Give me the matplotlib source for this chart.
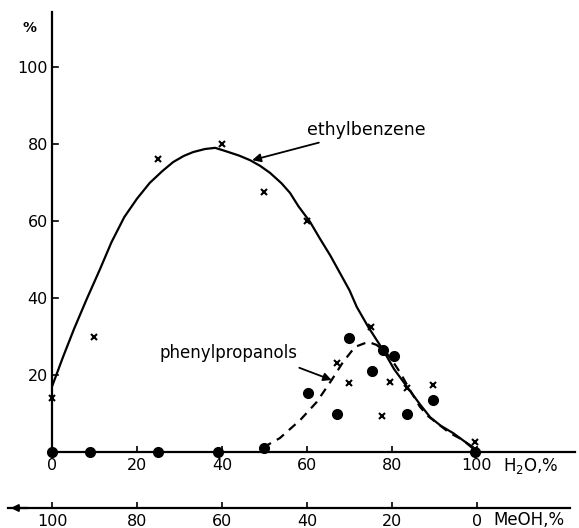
import matplotlib.pyplot as plt

# values (H2O %, %)
eb_x = [0, 10, 25, 40, 50, 60, 75, 67, 70, 79.5, 83.5, 89.7, 77.6, 99.5]
eb_y = [14, 30, 76, 80, 67.5, 60, 32.4, 23, 18, 18.2, 16.5, 17.4, 9.3, 2.7]

pp_x = [0, 9, 25, 39, 50, 60.3, 67, 70, 75.3, 78, 80.5, 83.5, 89.7, 99.5]
pp_y = [0, 0, 0, 0, 1, 15.3, 10, 29.5, 21, 26.5, 25, 10, 13.5, 0]

# curves
eb_curve_x = [0, 2.6, 5.2, 8.2, 11.3, 14, 17, 20, 23, 26, 28.5, 31, 33.2, 36, 38.4,
              40.7, 44, 46.6, 49, 51.3, 54, 56, 58, 60.7, 63, 65.5, 67.8, 70,
              71.7, 74.4, 77.9, 80.5, 83.5, 86.5, 89, 91.5, 94.4, 97, 99]
eb_curve_y = [17, 24.7, 32, 39.8, 47.5, 54.5, 61, 65.8, 69.9, 73, 75.3, 76.9, 77.9, 78.7, 79,
              78.2, 77, 75.8, 74.3, 72.5, 69.8, 67.3, 63.8, 59.8, 55.5, 51, 46.4, 42,
              37.7, 32.5, 26.5, 21.5, 17, 12.5, 9, 6.8, 4.9, 2.8, 1.3]

pp_curve_x = [49.7, 53.6, 58.4, 62.3, 65.8, 68.5, 71.3, 74.4, 76.4, 78.8, 80.5,
              82, 84, 86.6, 88.5, 90.6, 93.5, 96.7, 100]
pp_curve_y = [1.2, 3.6, 8.3, 13, 18.7, 23.4, 27.3, 28.6, 27.8, 25.6, 23,
              20.5, 16.5, 11.7, 9.3, 7.5, 5, 3.1, 0]

h2o_ticks = [0, 20, 40, 60, 80, 100]
y_ticks = [20, 40, 60, 80, 100]
meoh_ticks = [100, 80, 60, 40, 20, 0]

W, H = 579, 528
fig = plt.figure(figsize=(W / 100, H / 100), dpi=100)

# main axes: x=0 at px 52, x=100 at px 477; y=0 at px 452, y=100 at px 67
ax = fig.add_axes([52 / W, (H - 452) / H, 523 / W, 440 / H])
ax.set_xlim(0, 523 / 4.25)
ax.set_ylim(0, 440 / 3.85)
for s in ['top', 'right']:
    ax.spines[s].set_visible(False)
for s in ['left', 'bottom']:
    ax.spines[s].set_linewidth(1.6)
ax.set_xticks(h2o_ticks)
ax.tick_params(direction='in', length=4, width=1.2, labelsize=11.5, pad=4)
ax.set_yticks(y_ticks)
ax.tick_params(axis='y', direction='out', length=0, pad=3)
for yt in y_ticks:
    ax.plot([0, 1.5], [yt, yt], color='black', lw=1.2)

ax.plot(eb_curve_x, eb_curve_y, color='black', lw=1.6)
ax.plot(pp_curve_x, pp_curve_y, color='black', lw=1.6, dashes=(4, 3))
ax.plot(eb_x, eb_y, linestyle='none', marker='x', markersize=5, mew=1.5,
        color='black', clip_on=False)
ax.plot(pp_x, pp_y, linestyle='none', marker='o', markersize=7,
        color='black', clip_on=False)

ax.annotate('ethylbenzene', xy=(47.1, 75.8), xytext=(60, 83.6),
            fontsize=12.5, va='center', ha='left',
            arrowprops=dict(arrowstyle='-|>', color='black', lw=1.3,
                            shrinkA=2, shrinkB=0))
ax.annotate('phenylpropanols', xy=(65.8, 18.7), xytext=(25.4, 25.7),
            fontsize=12, va='center', ha='left',
            arrowprops=dict(arrowstyle='-|>', color='black', lw=1.3,
                            shrinkA=6, shrinkB=0, relpos=(0.9, 0.0)))

fig.text(30 / W, 1 - 28 / H, '%', fontsize=10, fontweight='bold',
         ha='center', va='center')
fig.text(503 / W, 1 - 466 / H, 'H$_2$O,%', fontsize=12, ha='left', va='center')

# second (MeOH) scale below
ax2 = fig.add_axes([8 / W, (H - 508) / H, 562 / W, 0.001])
ax2.set_xlim(100 + 44 / 4.25, 100 - 518 / 4.25)
ax2.set_yticks([])
for s in ['top', 'right', 'left']:
    ax2.spines[s].set_visible(False)
ax2.spines['bottom'].set_linewidth(1.6)
ax2.set_xticks(meoh_ticks)
ax2.tick_params(axis='x', direction='in', length=4, width=1.2, labelsize=11.5, pad=4)
ax2.annotate('', xy=(0, 0), xycoords='axes fraction', xytext=(0.04, 0),
             arrowprops=dict(arrowstyle='-|>', color='black', lw=1.6))
fig.text(493 / W, 1 - 520 / H, 'MeOH,%', fontsize=12, ha='left', va='center')

fig.savefig('out.png', dpi=100)
